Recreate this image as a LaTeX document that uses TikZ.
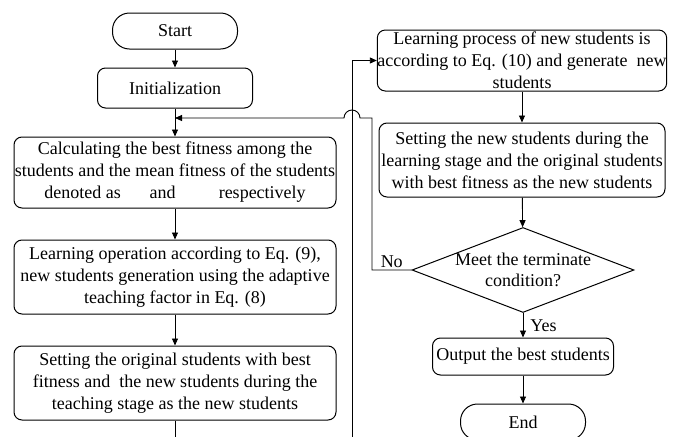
\documentclass[tikz,border=0pt]{standalone}
\usepackage{fontspec}
\setmainfont{Liberation Serif}
\usetikzlibrary{arrows.meta, positioning, shapes.geometric}

\begin{document}
\begin{tikzpicture}[
            x=1pt, y=-1pt,
            every node/.style={font=\fontsize{18}{22}\selectfont},
            terminal/.style={draw, line width=1pt, rounded corners=17pt, minimum width=125pt, minimum height=36pt, inner sep=0pt},
            process box/.style={draw, line width=1pt, rounded corners=8pt, align=center, inner sep=0pt},
            decision/.style={draw, diamond, line width=1pt, minimum width=222pt, minimum height=85pt, inner sep=0pt},
            flow line/.style={line width=0.9pt, -{Triangle[length=7pt, width=6pt]}},
            plain line/.style={line width=0.9pt},
            side label/.style={inner sep=2pt},
        ]

        % Frame of the picture
        \useasboundingbox (0,0) rectangle (673,437);
        \clip (0,0) rectangle (673,437);

        % Left column
        \node[terminal] (start) at (175,31) {Start};
        \node[process box, minimum width=155pt, minimum height=40pt] (init) at (175,88) {Initialization};
        \node[process box, minimum width=322pt, minimum height=71pt] (calc) at (175,172.5)
            {Calculating the best fitness among the\\students and the mean fitness of the students\\denoted as \hspace{1.1em} and \hspace{1.9em} respectively};
        \node[process box, minimum width=322pt, minimum height=74pt] (teach) at (175,277)
            {Learning operation according to Eq. (9),\\new students generation using the adaptive\\teaching factor in Eq. (8)};
        \node[process box, minimum width=322pt, minimum height=74pt] (keep1) at (175,383)
            {Setting the original students with best\\fitness and \ the new students during the\\teaching stage as the new students};

        % Right column
        \node[process box, minimum width=287pt, minimum height=61pt] (learn) at (522,60.5)
            {Learning process of new students is\\according to Eq. (10) and generate \ new\\students};
        \node[process box, minimum width=286pt, minimum height=74pt] (keep2) at (522,160)
            {Setting the new students during the\\learning stage and the original students\\with best fitness as the new students};
        \node[decision, label={[align=center, font=\fontsize{18}{21}\selectfont]center:Meet the terminate\\condition?}] (check) at (523,270) {};
        \node[process box, minimum width=181pt, minimum height=37pt] (output) at (523,356.5) {Output the best students};
        \node[terminal] (stop) at (523,422) {End};

        % Bends of the connectors
        \coordinate (loopr) at (372,270);
        \coordinate (loopin) at (175,118);
        \coordinate (bend1) at (175,450);
        \coordinate (bend2) at (352,450);

        % Connectors
        \draw[flow line] (start) -- (init);
        \draw[flow line] (init) -- (calc);
        \draw[flow line] (calc) -- (teach);
        \draw[flow line] (teach) -- (keep1);
        \draw[flow line] (keep1) -- (bend1) -- (bend2) |- (learn.west);
        \draw[flow line] (learn) -- (keep2);
        \draw[flow line] (keep2) -- (check);
        \draw[flow line] (check) -- node[side label, right, xshift=5pt]{Yes} (output);
        \draw[flow line] (output) -- (stop);

        % Loop back with a hop over the rising line
        \draw[flow line] (check.west) -- node[side label, above]{No} (loopr) |- (360,118)
            arc[start angle=0, end angle=180, radius=8pt] -- (loopin);

        \end{tikzpicture}
\end{document}
